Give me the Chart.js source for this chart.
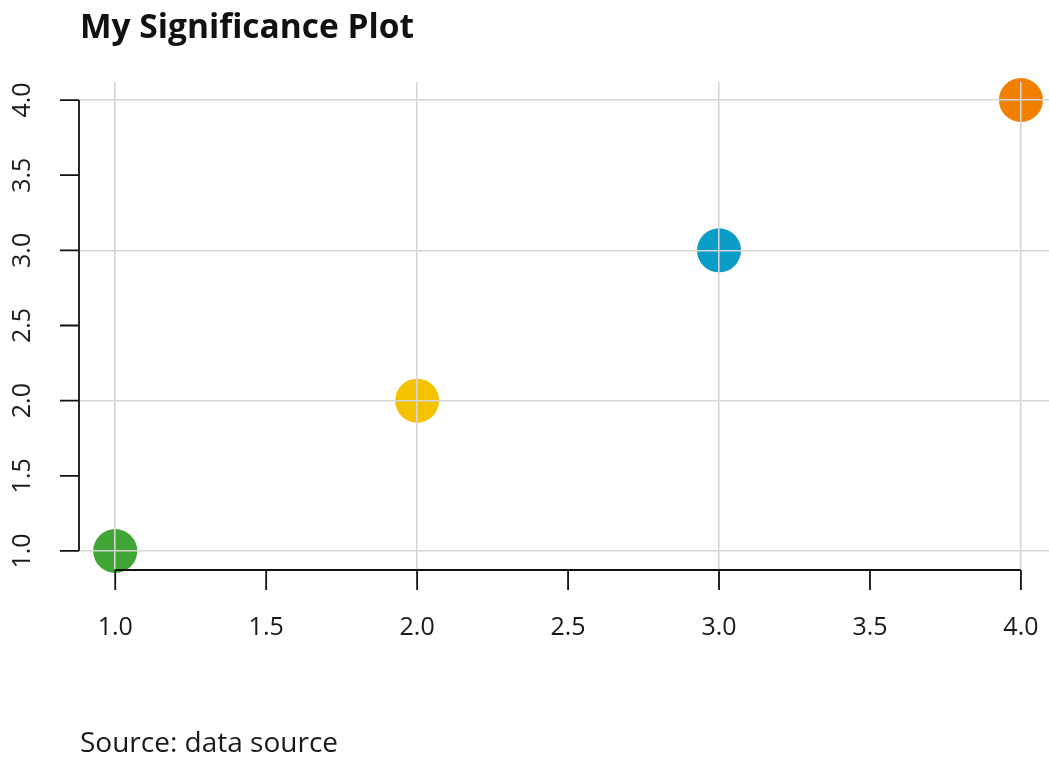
<!DOCTYPE html>
<html>
<head>
<meta charset="utf-8">
<script src="https://cdn.jsdelivr.net/npm/chart.js@4/dist/chart.umd.min.js"></script>
<style>
  html, body { margin: 0; padding: 0; background: #fff; }
  #wrap { position: relative; width: 1049px; height: 759px; }
</style>
</head>
<body>
<div id="wrap"><canvas id="chart" width="1049" height="759"></canvas></div>
<script>
const titleText = 'My Significance Plot';
const sourceText = 'Source: data source';

const xValues = [1, 2, 3, 4];
const yValues = [1, 2, 3, 4];
const pointColors = ['#3fa535', '#f4c300', '#0a9dc8', '#f18000'];

const xTicks = [1, 1.5, 2, 2.5, 3, 3.5, 4];
const xTickLabels = ['1.0', '1.5', '2.0', '2.5', '3.0', '3.5', '4.0'];
const yTicks = [1, 1.5, 2, 2.5, 3, 3.5, 4];
const yTickLabels = ['1.0', '1.5', '2.0', '2.5', '3.0', '3.5', '4.0'];

const FONT = '"Open Sans"';
const gridColor = (ctx) => (Number.isInteger(ctx.tick && ctx.tick.value) ? '#d6d6d6' : 'rgba(0,0,0,0)');

// R-style axes: line only between first and last tick, ticks pointing outward
const axisPlugin = {
  id: 'rAxes',
  afterDraw(chart) {
    const { ctx, chartArea, scales: { x, y } } = chart;
    ctx.save();
    ctx.strokeStyle = '#111';
    ctx.lineWidth = 1.8;
    const left = chartArea.left;
    const bottom = chartArea.bottom + 1;
    ctx.beginPath();
    ctx.moveTo(left, y.getPixelForValue(yTicks[0]));
    ctx.lineTo(left, y.getPixelForValue(yTicks[yTicks.length - 1]));
    yTicks.forEach((v) => {
      const py = y.getPixelForValue(v);
      ctx.moveTo(left - 19, py);
      ctx.lineTo(left, py);
    });
    ctx.moveTo(x.getPixelForValue(xTicks[0]), bottom);
    ctx.lineTo(x.getPixelForValue(xTicks[xTicks.length - 1]), bottom);
    xTicks.forEach((v) => {
      const px = x.getPixelForValue(v);
      ctx.moveTo(px, bottom);
      ctx.lineTo(px, bottom + 20);
    });
    ctx.stroke();

    ctx.fillStyle = '#111';
    ctx.textBaseline = 'alphabetic';
    ctx.textAlign = 'left';
    ctx.font = `bold 33.5px ${FONT}`;
    ctx.fillText(titleText, 80, 38);
    ctx.font = `28px ${FONT}`;
    ctx.fillStyle = '#1a1a1a';
    ctx.fillText(sourceText, 80, 752);
    ctx.restore();
  },
};

new Chart(document.getElementById('chart'), {
  type: 'scatter',
  data: {
    datasets: [
      {
        data: xValues.map((v, i) => ({ x: v, y: yValues[i] })),
        backgroundColor: pointColors,
        borderWidth: 0,
        pointRadius: 22,
        pointHoverRadius: 22,
        clip: false,
      },
    ],
  },
  options: {
    responsive: false,
    animation: false,
    events: [],
    layout: {
      autoPadding: false,
      padding: { top: 82, left: 0, right: 0, bottom: 0 },
    },
    plugins: { legend: { display: false }, tooltip: { enabled: false } },
    scales: {
      x: {
        type: 'linear',
        min: 0.88,
        max: 4.093,
        afterBuildTicks: (s) => { s.ticks = xTicks.map((v) => ({ value: v })); },
        afterFit: (s) => {
          s.height = 190;
          s.paddingLeft = 0;
          s.paddingRight = 0;
        },
        grid: {
          color: gridColor, lineWidth: 1.6, z: 1,
          drawTicks: true, tickLength: 42, tickColor: 'rgba(0,0,0,0)',
        },
        border: { display: false },
        ticks: {
          callback: (v, i) => xTickLabels[i],
          font: { family: 'Open Sans', size: 25 },
          color: '#1a1a1a',
          padding: 2,
          maxRotation: 0,
        },
      },
      y: {
        type: 'linear',
        min: 0.88,
        max: 4.12,
        afterBuildTicks: (s) => { s.ticks = yTicks.map((v) => ({ value: v })); },
        afterFit: (s) => { s.width = 79; },
        grid: { color: gridColor, lineWidth: 1.6, drawTicks: false, z: 1 },
        border: { display: false },
        ticks: {
          callback: (v, i) => yTickLabels[i],
          font: { family: 'Open Sans', size: 25 },
          color: '#1a1a1a',
          minRotation: 90,
          maxRotation: 90,
          crossAlign: 'center',
          padding: 39,
        },
      },
    },
  },
  plugins: [axisPlugin],
});
</script>
</body>
</html>
